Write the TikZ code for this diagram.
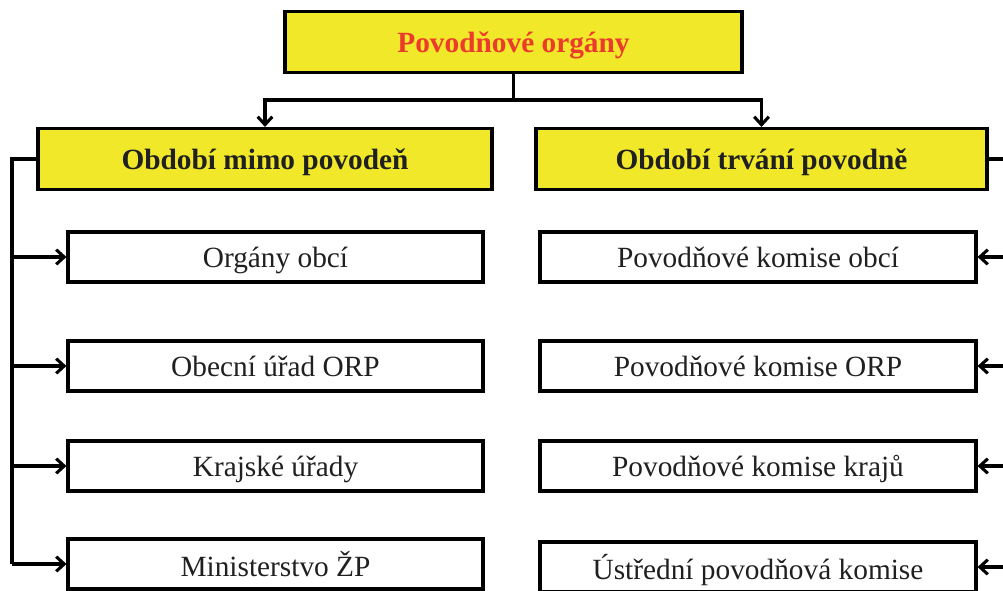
\documentclass[tikz,border=0pt]{standalone}
\usepackage{fontspec}
\setmainfont{Liberation Serif}
\usetikzlibrary{arrows.meta}
\usepackage{xcolor}
\definecolor{hdryellow}{RGB}{240,232,40}
\definecolor{titlered}{RGB}{236,58,44}
\definecolor{txtgray}{RGB}{32,32,32}

\begin{document}
\begin{tikzpicture}[x=0.75pt,y=-0.75pt,
  hdr/.style={draw,fill=hdryellow,line width=2.3pt,minimum height=61*0.75pt,
              inner sep=0pt,text depth=0pt,font=\fontsize{22}{26}\selectfont\bfseries,text=txtgray},
  organ/.style={draw,fill=white,line width=2.3pt,minimum height=50*0.75pt,
                inner sep=0pt,text depth=0pt,font=\fontsize{22}{26}\selectfont,text=txtgray},
  link/.style={line width=2.3pt,line join=miter},
  arr/.style={link,-{Straight Barb[length=6pt,width=11pt]}}]

  % ===== frame =====
  \clip (0,0) rectangle (1003,590);

  % ===== headers =====
  \node[hdr,minimum width=457*0.75pt,text=titlered] (title) at (513.5,42) {Povodňové orgány};
  \node[hdr,minimum width=454*0.75pt] (mimo)  at (265,159)   {Období mimo povodeň};
  \node[hdr,minimum width=451*0.75pt] (trvani) at (761.5,159) {Období trvání povodně};

  % ===== organs outside of flood =====
  \node[organ,minimum width=415*0.75pt] (l1) at (275.5,257) {Orgány obcí};
  \node[organ,minimum width=415*0.75pt] (l2) at (275.5,366) {Obecní úřad ORP};
  \node[organ,minimum width=415*0.75pt] (l3) at (275.5,466) {Krajské úřady};
  \node[organ,minimum width=415*0.75pt] (l4) at (275.5,564) {Ministerstvo ŽP};

  % ===== flood commissions =====
  \node[organ,minimum width=436*0.75pt] (r1) at (758,257) {Povodňové komise obcí};
  \node[organ,minimum width=436*0.75pt] (r2) at (758,366) {Povodňové komise ORP};
  \node[organ,minimum width=436*0.75pt] (r3) at (758,466) {Povodňové komise krajů};
  \node[organ,minimum width=436*0.75pt] (r4) at (758,567) {Ústřední povodňová komise};

  % ===== top fork =====
  \coordinate (fork) at (513.5,100);
  \draw[link] (title.south) -- (fork);
  \draw[arr] (fork) -| (mimo.north);
  \draw[arr] (fork) -| (trvani.north);

  % ===== side buses =====
  \coordinate (lbus) at (12,159);
  \coordinate (rbus) at (1015,159);
  \draw[link] (mimo.west) -- (lbus) -- (lbus |- l4.west);
  \draw[link] (trvani.east) -- (rbus) -- (rbus |- r4.east);
  \foreach \i in {1,...,4}{
    \draw[arr] (lbus |- l\i.west) -- (l\i.west);
    \draw[arr] (rbus |- r\i.east) -- (r\i.east);
  }

\end{tikzpicture}
\end{document}
